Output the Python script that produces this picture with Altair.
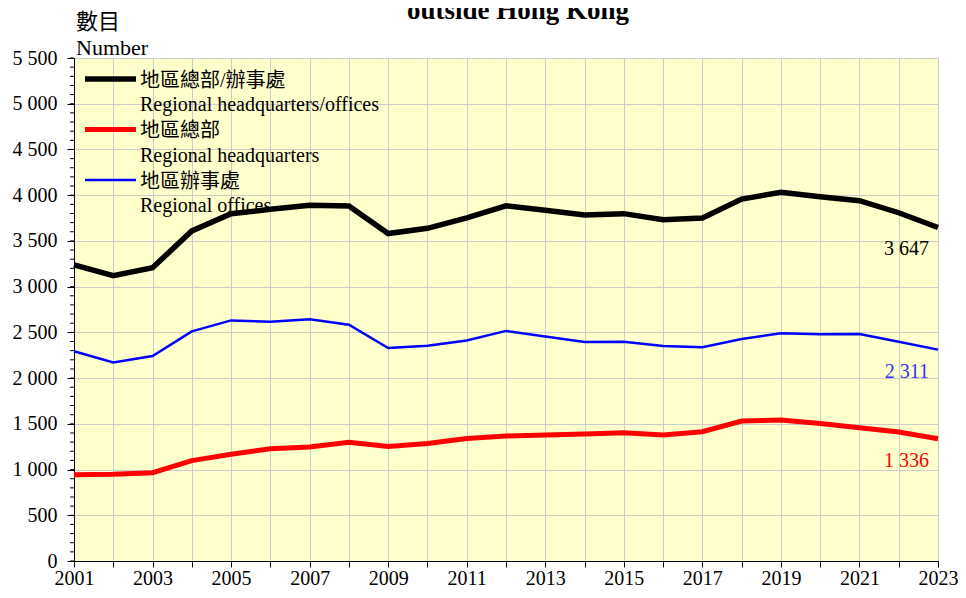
import altair as alt
import pandas as pd

# ---- data ----
years = list(range(2001, 2024))
total = [3237, 3119, 3207, 3609, 3798, 3845, 3890, 3882, 3580, 3638, 3752, 3883,
         3835, 3784, 3798, 3731, 3751, 3957, 4032, 3983, 3940, 3808, 3647]
hq = [944, 948, 966, 1098, 1167, 1228, 1246, 1298, 1252, 1285, 1340, 1367,
      1379, 1389, 1401, 1379, 1413, 1530, 1541, 1504, 1457, 1411, 1336]
offices = [2293, 2171, 2241, 2511, 2631, 2617, 2644, 2584, 2328, 2353, 2412, 2516,
           2456, 2395, 2397, 2352, 2338, 2427, 2491, 2479, 2483, 2397, 2311]

series_keys = ["total", "hq", "off"]
series_zh = ["地區總部/辦事處", "地區總部", "地區辦事處"]
series_en = ["Regional headquarters/offices", "Regional headquarters", "Regional offices"]
line_colors = ["#000000", "#ff0000", "#0000ff"]
label_colors = ["#000000", "#ff0000", "#3333ff"]
line_widths = [5.5, 5, 2.5]

title_text = "outside Hong Kong"
ytitle_zh = "數目"
ytitle_en = "Number"

FONT = "Liberation Serif, Noto Sans CJK TC"
W, H = 864, 503
TOP = 58   # page y of plot top
LEFT = 74  # page x of plot left

rows = []
for key, vals in zip(series_keys, [total, hq, offices]):
    for yr, v in zip(years, vals):
        rows.append({"series": key, "year": yr, "value": v})
df = pd.DataFrame(rows)

last = df[df["year"] == years[-1]].copy()
last["lcolor"] = last["series"].map(dict(zip(series_keys, label_colors)))

x_scale = alt.Scale(domain=[2001, 2023], nice=False, zero=False)
y_scale = alt.Scale(domain=[0, 5500], nice=False)

x_axis = alt.Axis(values=years, format="d",
                  labelExpr="datum.value % 2 == 1 ? datum.label : ''",
                  grid=True, gridColor="#cccccc", tickSize=6, tickColor="black",
                  domainColor="black", labelFont=FONT, labelFontSize=20,
                  labelColor="black", labelPadding=1, title=None,
                  labelFlush=False, labelOverlap=False)
y_axis = alt.Axis(values=list(range(0, 5501, 500)),
                  labelExpr="replace(format(datum.value, ','), ',', ' ')",
                  grid=True, gridColor="#cccccc", tickSize=7, tickColor="black",
                  domainColor="black", labelFont=FONT, labelFontSize=20,
                  labelColor="black", labelPadding=10, title=None,
                  labelFlush=False, labelOverlap=False)

layers = []
for key, col, sw in zip(series_keys, line_colors, line_widths):
    layers.append(
        alt.Chart(df).transform_filter(alt.datum.series == key).mark_line(
            color=col, strokeWidth=sw).encode(
            x=alt.X("year:Q", scale=x_scale, axis=x_axis),
            y=alt.Y("value:Q", scale=y_scale, axis=y_axis),
        )
    )

minor = alt.Chart(pd.DataFrame({"value": list(range(0, 5501, 100))})).mark_rule(color="black").encode(
    x=alt.value(-4), x2=alt.value(0),
    y=alt.Y("value:Q", scale=y_scale, axis=y_axis),
)
layers.append(minor)

end_labels = alt.Chart(last).transform_calculate(
    txt="replace(format(datum.value, ','), ',', ' ')"
).mark_text(font=FONT, fontSize=20, align="right", baseline="alphabetic", dx=-9, dy=28).encode(
    x=alt.X("year:Q", scale=x_scale, axis=x_axis),
    y=alt.Y("value:Q", scale=y_scale, axis=y_axis),
    text="txt:N",
    color=alt.Color("lcolor:N", scale=None),
)
layers.append(end_labels)

one = pd.DataFrame({"a": [0]})


def text_at(txt, page_x, page_y, size, color="black", weight="normal", align="left", baseline="alphabetic"):
    return alt.Chart(one).mark_text(text=txt, font=FONT, fontSize=size, color=color,
                                    fontWeight=weight, align=align, baseline=baseline).encode(
        x=alt.value(page_x - LEFT), y=alt.value(page_y - TOP))


# legend (inside plot, top-left)
for i in range(3):
    ys = 79 + i * 50.5
    layers.append(alt.Chart(one).mark_rule(color=line_colors[i], strokeWidth=line_widths[i]).encode(
        x=alt.value(85 - LEFT), x2=alt.value(136 - LEFT), y=alt.value(ys - TOP)))
    layers.append(text_at(series_zh[i], 140, ys + 1.5, 20, baseline="middle"))
    layers.append(text_at(series_en[i], 140, ys + 32, 20))

layers.append(text_at(ytitle_zh, 76, 29, 22))
layers.append(text_at(ytitle_en, 76, 55, 22))
layers.append(text_at(title_text, 518, 19, 27, weight="bold", align="center"))

chart = alt.layer(*layers).properties(
    width=W, height=H,
    autosize=alt.AutoSizeParams(type="none"),
    padding={"left": LEFT - 8, "top": TOP - 8, "right": 20, "bottom": 27},
).configure_view(fill="#FFFFCC", stroke="#999999")

chart.save("out.html", embed_options={"renderer": "svg", "actions": False})
